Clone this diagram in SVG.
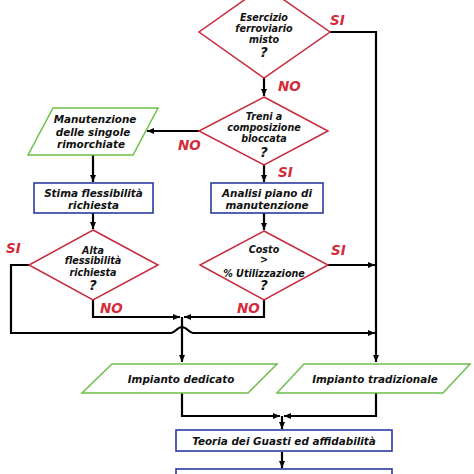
<svg xmlns="http://www.w3.org/2000/svg" width="474" height="474" viewBox="0 0 474 474">
<defs>
<style>
.dia{fill:#fff;stroke:#c7283c;stroke-width:1.5}
.par{fill:#fff;stroke:#6cc04a;stroke-width:1.5}
.box{fill:#fff;stroke:#2b3a9f;stroke-width:1.6}
.t{font-family:"DejaVu Sans",Verdana,sans-serif;font-weight:bold;font-style:italic;fill:#111;text-anchor:middle}
.ts{font-size:9.6px}
.tb{font-size:10.4px}
.q{font-size:13.5px}
.lab{font-family:"DejaVu Sans",Verdana,sans-serif;font-weight:bold;font-style:italic;font-size:13.5px;fill:#d42a3a}
.c{fill:none;stroke:#000;stroke-width:2.2}
</style>
<marker id="ar" markerUnits="userSpaceOnUse" markerWidth="8" markerHeight="8" refX="7" refY="3" orient="auto">
<path d="M0,0 L7,3 L0,6 z" fill="#000"/>
</marker>
</defs>
<rect width="474" height="474" fill="#fff"/>

<g id="connectors">
<path class="c" d="M330,32 H376 V362" marker-end="url(#ar)"/>
<path class="c" d="M264,78 V96" marker-end="url(#ar)"/>
<path class="c" d="M199,131 H147" marker-end="url(#ar)"/>
<path class="c" d="M93,155 V182" marker-end="url(#ar)"/>
<path class="c" d="M264,165 V182" marker-end="url(#ar)"/>
<path class="c" d="M93,213 V229" marker-end="url(#ar)"/>
<path class="c" d="M264,213 V230" marker-end="url(#ar)"/>
<path class="c" d="M29,265 H11 V333 H171 C175,333 177,327 182,327 C187,327 189,333 193,333 H375" marker-end="url(#ar)"/>
<path class="c" d="M93,300 V317 H180" marker-end="url(#ar)"/>
<path class="c" d="M264,300 V317 H184" marker-end="url(#ar)"/>
<path class="c" d="M182,317 V362" marker-end="url(#ar)"/>
<path class="c" d="M328,265 H375" marker-end="url(#ar)"/>
<path class="c" d="M182,393 V416 H280" marker-end="url(#ar)"/>
<path class="c" d="M376,393 V416 H284" marker-end="url(#ar)"/>
<path class="c" d="M282,416 V429" marker-end="url(#ar)"/>
<path class="c" d="M282,452 V468" marker-end="url(#ar)"/>
</g>

<g id="labels">
<text class="lab" x="330" y="25">SI</text>
<text class="lab" x="278" y="91">NO</text>
<text class="lab" x="178" y="150">NO</text>
<text class="lab" x="278" y="177">SI</text>
<text class="lab" x="6" y="253">SI</text>
<text class="lab" x="100" y="313">NO</text>
<text class="lab" x="331" y="255">SI</text>
<text class="lab" x="237" y="313">NO</text>
</g>

<g id="n-esercizio">
<polygon class="dia" points="264,-14 330,32 264,78 199,32"/>
<text class="t ts" x="264" y="20.5">Esercizio</text>
<text class="t ts" x="264" y="31.5">ferroviario</text>
<text class="t ts" x="264" y="42.5">misto</text>
<text class="t q" x="264" y="57">?</text>
</g>

<g id="n-treni">
<polygon class="dia" points="264,97 328,131 264,165 199,131"/>
<text class="t ts" x="264" y="119.5">Treni a</text>
<text class="t ts" x="264" y="131">composizione</text>
<text class="t ts" x="264" y="142">bloccata</text>
<text class="t q" x="264" y="157">?</text>
</g>

<g id="n-manutenzione">
<polygon class="par" points="53,108 158,108 133,155 28,155"/>
<text class="t tb" x="95" y="123">Manutenzione</text>
<text class="t tb" x="93" y="135.5">delle singole</text>
<text class="t tb" x="91" y="148">rimorchiate</text>
</g>

<g id="n-stima">
<rect class="box" x="34" y="183" width="119" height="30"/>
<text class="t tb" x="93.5" y="196.5">Stima flessibilità</text>
<text class="t tb" x="93.5" y="208.5">richiesta</text>
</g>

<g id="n-analisi">
<rect class="box" x="211" y="183" width="112" height="30"/>
<text class="t tb" x="267" y="196.5">Analisi piano di</text>
<text class="t tb" x="267" y="208.5">manutenzione</text>
</g>

<g id="n-alta">
<polygon class="dia" points="93,230 158,265 93,300 29,265"/>
<text class="t ts" x="93" y="253.5">Alta</text>
<text class="t ts" x="93" y="264">flessibilità</text>
<text class="t ts" x="93" y="275.5">richiesta</text>
<text class="t q" x="93" y="290">?</text>
</g>

<g id="n-costo">
<polygon class="dia" points="264,231 328,265 264,300 200,265"/>
<text class="t ts" x="264" y="252.5">Costo</text>
<text class="t ts" x="264" y="263">&gt;</text>
<text class="t ts" x="264" y="276.5">% Utilizzazione</text>
<text class="t q" x="264" y="290">?</text>
</g>

<g id="n-dedicato">
<polygon class="par" points="112,364 277,364 248,393 82,393"/>
<text class="t tb" x="181" y="383">Impianto dedicato</text>
</g>

<g id="n-tradizionale">
<polygon class="par" points="304,364 470,364 443,393 277,393"/>
<text class="t tb" x="375" y="383">Impianto tradizionale</text>
</g>

<g id="n-teoria">
<rect class="box" x="176" y="430" width="216" height="21"/>
<text class="t tb" x="284" y="444.5">Teoria dei Guasti ed affidabilità</text>
</g>

<g id="n-next">
<rect class="box" x="176" y="469" width="216" height="20"/>
</g>
</svg>
